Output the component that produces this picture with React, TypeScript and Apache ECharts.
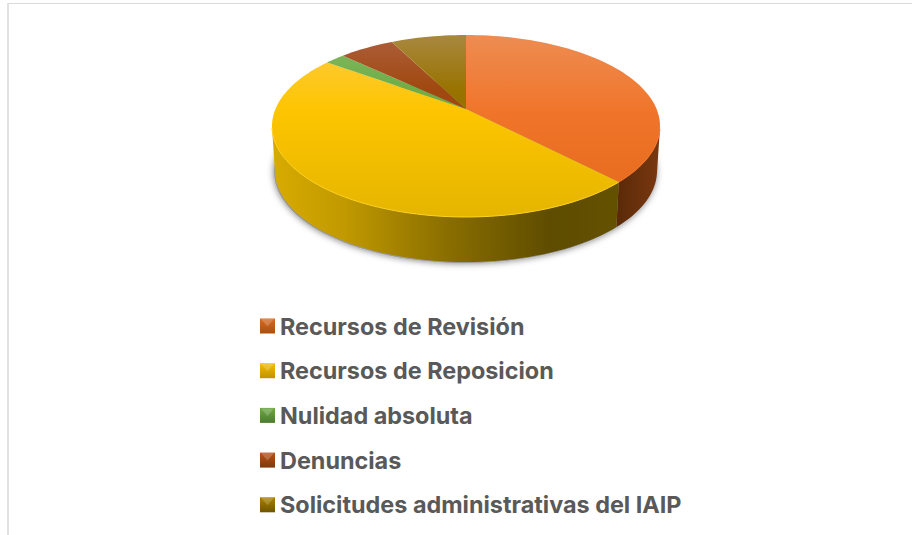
import React, { useEffect, useRef } from "react";
import * as echarts from "echarts";

const categories = [
  "Recursos de Revisión",
  "Recursos de Reposicion",
  "Nulidad absoluta",
  "Denuncias",
  "Solicitudes administrativas del IAIP",
];
const values = [37.8, 47.2, 2, 5.5, 7.5];
const topStops = [
  ["#EE8C52", "#F0752A", "#E4691C"],
  ["#FFCB45", "#FDC500", "#E5B500"],
  ["#82B962", "#6FAD47", "#639C3E"],
  ["#AD5F3C", "#A0480F", "#94420C"],
  ["#A88840", "#997300", "#8A6800"],
];
const midOffset = [0.42, 0.42, 0.3, 0.3, 0.3];
const wallStops = [
  ["#5C2A08", "#7A3810"],
  ["#D4A800", "#5F4E00"],
  ["#5F8A3A", "#3F5F28"],
  ["#7A3810", "#5C2A08"],
  ["#6F5500", "#4F3D00"],
];
const legendColors = [
  ["#D86A24", "#A8500F"],
  ["#F5BE00", "#C09200"],
  ["#6CA845", "#4C7C30"],
  ["#B8521A", "#80380A"],
  ["#A98000", "#6E5500"],
];

const CX = 466;
const TOP_CY = 126;
const RX = 194;
const RY = 91;
const BOT_CY = 171;
const BOT_RX = 191;
const APEX_SHIFT = -0.187;
const LEGEND_LEFT = 260;
const LEGEND_TOP = 314;
const LEGEND_STEP = 44.7;
const MARK = 15;

const total = values.reduce((a, b) => a + b, 0);

function project(angle: number) {
  const x = Math.sin(angle);
  const y = -Math.cos(angle);
  const a = APEX_SHIFT;
  const d = 1 + a * y;
  return { x: (x * Math.sqrt(1 - a * a)) / d, y: (y + a) / d };
}

function sliceSamples(i: number) {
  const before = values.slice(0, i).reduce((a, b) => a + b, 0);
  const start = (before / total) * Math.PI * 2;
  const end = ((before + values[i]) / total) * Math.PI * 2;
  const n = Math.max(8, Math.ceil(((end - start) / Math.PI) * 90));
  const out: { x: number; y: number }[] = [];
  for (let k = 0; k <= n; k++) out.push(project(start + ((end - start) * k) / n));
  return out;
}

function renderSlice(i: number) {
  return () => {
    const samples = sliceSamples(i);
    const top = samples.map((p) => [CX + RX * p.x, TOP_CY + RY * p.y]);
    const apex = [CX, TOP_CY + RY * APEX_SHIFT];
    const front = samples.filter((p) => p.y >= 0);
    const children: any[] = [];
    if (front.length > 1) {
      const upper = front.map((p) => [CX + RX * p.x, TOP_CY + RY * p.y]);
      const lower = front.map((p) => [CX + BOT_RX * p.x, BOT_CY + RY * p.y]).reverse();
      const xs = upper.map((p) => p[0]);
      const wall = wallStops[i];
      children.push({
        type: "polygon",
        shape: { points: [...upper, ...lower] },
        style: {
          fill:
            i === 1
              ? {
                  type: "linear", global: true, x: 272, y: 0, x2: 660, y2: 0,
                  colorStops: [
                    { offset: 0, color: "#D8AB00" },
                    { offset: 0.18, color: "#C29A00" },
                    { offset: 0.45, color: "#8A6E00" },
                    { offset: 0.72, color: "#5E4C00" },
                    { offset: 1, color: "#685400" },
                  ],
                }
              : {
                  type: "linear", global: true, x: Math.min(...xs), y: 0, x2: Math.max(...xs), y2: 0,
                  colorStops: [
                    { offset: 0, color: wall[0] },
                    { offset: 1, color: wall[1] },
                  ],
                },
        },
      });
    }
    const s = topStops[i];
    children.push({
      type: "polygon",
      shape: { points: [apex, ...top] },
      style: {
        fill: {
          type: "linear", global: true, x: 0, y: TOP_CY - RY, x2: 0, y2: TOP_CY + RY,
          colorStops: [
            { offset: 0, color: s[0] },
            { offset: midOffset[i], color: s[1] },
            { offset: 1, color: s[2] },
          ],
        },
      },
    });
    if (front.length > 1) {
      children.push({
        type: "polyline",
        shape: { points: front.map((p) => [CX + RX * p.x, TOP_CY + RY * p.y]) },
        style: { stroke: i === 1 ? "#FFD21E" : s[1], lineWidth: 1, fill: "none" },
      });
    }
    return { type: "group", children };
  };
}

export default function App() {
  const ref = useRef<HTMLDivElement>(null);
  useEffect(() => {
    const chart = echarts.init(ref.current!, null, { renderer: "svg" });
    const bevels: any[] = [];
    categories.forEach((_, i) => {
      const y = LEGEND_TOP + 4 + i * LEGEND_STEP;
      bevels.push({
        type: "polygon",
        z: 20,
        silent: true,
        shape: {
          points: [
            [LEGEND_LEFT + 1, y + 1],
            [LEGEND_LEFT + MARK - 1, y + 1],
            [LEGEND_LEFT + MARK / 2, y + MARK / 2 + 1],
          ],
        },
        style: { fill: "rgba(255,255,255,0.2)" },
      });
    });
    chart.setOption({
      animation: false,
      backgroundColor: "#FFFFFF",
      legend: {
        orient: "vertical",
        left: LEGEND_LEFT,
        top: LEGEND_TOP,
        padding: 0,
        itemWidth: MARK,
        itemHeight: MARK,
        itemGap: LEGEND_STEP - 24,
        icon: "rect",
        selectedMode: false,
        textStyle: {
          fontFamily: "Inter",
          fontWeight: 700,
          fontSize: 23.4,
          lineHeight: 24,
          color: "#595959",
        },
        data: categories.map((name, i) => ({
          name,
          itemStyle: {
            color: {
              type: "linear", x: 0, y: 0, x2: 0, y2: 1,
              colorStops: [
                { offset: 0, color: legendColors[i][0] },
                { offset: 1, color: legendColors[i][1] },
              ],
            },
          },
        })),
      },
      graphic: [
        {
          type: "ellipse",
          z: 0,
          silent: true,
          shape: { cx: CX - 1, cy: BOT_CY + 1, rx: BOT_RX, ry: RY },
          style: { fill: "#999", shadowColor: "rgba(0,0,0,0.55)", shadowBlur: 7 },
        },
        {
          type: "line", z: 1, silent: true,
          shape: { x1: 8, y1: 3.5, x2: 912, y2: 3.5 },
          style: { stroke: "#D9D9D9", lineWidth: 1 },
        },
        {
          type: "line", z: 1, silent: true,
          shape: { x1: 8, y1: 3, x2: 8, y2: 535 },
          style: { stroke: "#D9D9D9", lineWidth: 1.5 },
        },
        ...bevels,
      ],
      series: categories.map((name, i) => ({
        type: "custom",
        name,
        coordinateSystem: "none",
        silent: true,
        z: 5,
        clip: false,
        data: [[values[i]]],
        renderItem: renderSlice(i),
      })),
    });
    return () => chart.dispose();
  }, []);
  return (
    <div
      ref={ref}
      style={{ position: "absolute", left: 0, top: 0, width: 912, height: 535 }}
    />
  );
}
